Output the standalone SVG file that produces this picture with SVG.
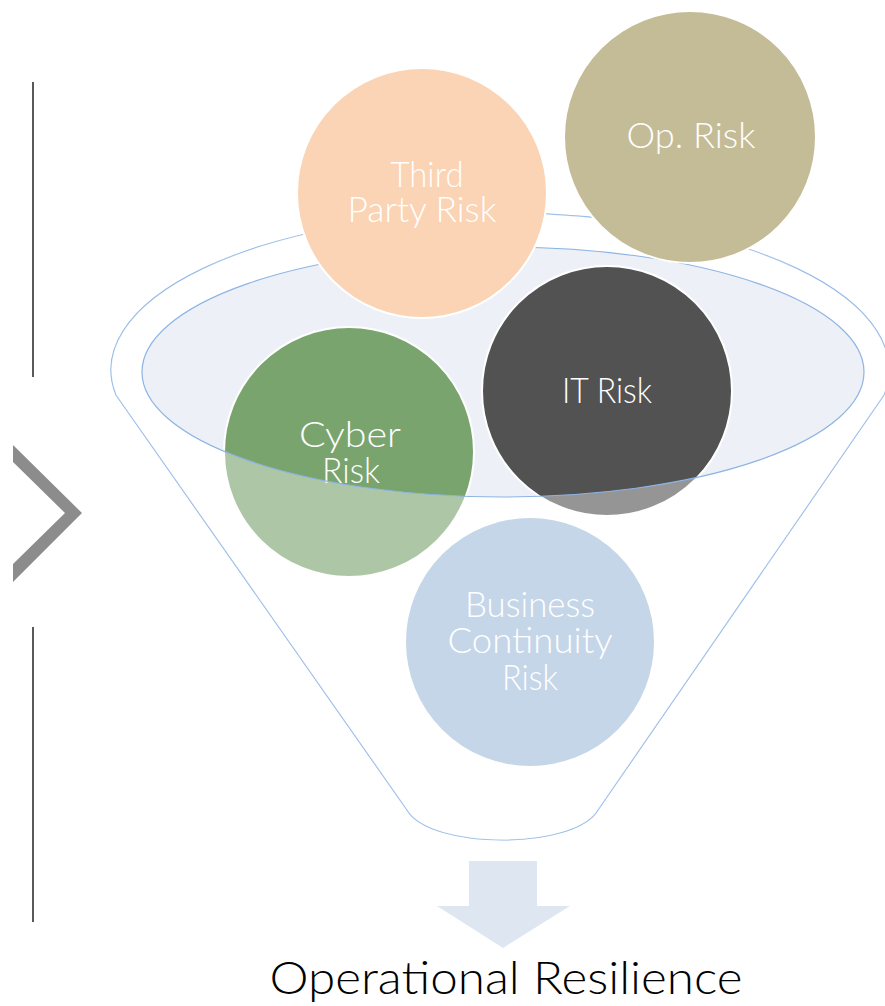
<svg xmlns="http://www.w3.org/2000/svg" width="885" height="1006" viewBox="0 0 885 1006">
<style>
.lbl{font-family:Lato,"Liberation Sans",Arial,sans-serif;font-weight:300;font-size:35px;fill:#FFFFFF;text-anchor:middle}
.ring{stroke:#FFFFFF;stroke-width:2}
.edge{fill:none;stroke:#8EB4E3;stroke-width:1.2}
.side{stroke:#595959;stroke-width:2}
</style>
<rect width="885" height="1006" fill="#FFFFFF"/>
<g id="side-bar">
<line class="side" x1="33" y1="82" x2="33" y2="377"/>
<line class="side" x1="33" y1="627" x2="33" y2="922"/>
<polygon points="13,445 82,513 13,582 13,564 65,513 13,462" fill="#8C8C8C"/>
</g>
<g id="funnel-base">
<path d="M116 395 A389 157 0 1 1 884 395 L598 810 C575 850 430 850 407 810 Z" fill="#FFFFFF" stroke="#8EB4E3" stroke-width="1.2"/>
<ellipse cx="503" cy="372" rx="361" ry="125" fill="#EDF1F7"/>
</g>
<g id="node-cyber">
<circle class="ring" cx="349" cy="452" r="125" fill="#7AA46E"/>
<text class="lbl" x="350" y="447" textLength="102" lengthAdjust="spacingAndGlyphs">Cyber</text>
<text class="lbl" x="351" y="483" textLength="58" lengthAdjust="spacingAndGlyphs">Risk</text>
</g>
<g id="node-it">
<circle class="ring" cx="607" cy="391" r="125" fill="#525252"/>
<text class="lbl" x="607" y="403" textLength="90" lengthAdjust="spacingAndGlyphs">IT Risk</text>
</g>
<g id="node-bc">
<circle class="ring" cx="530" cy="642" r="125" fill="#A2BCDB"/>
<text class="lbl" x="530" y="617" textLength="130" lengthAdjust="spacingAndGlyphs">Business</text>
<text class="lbl" x="530" y="653" textLength="165" lengthAdjust="spacingAndGlyphs">Continuity</text>
<text class="lbl" x="530" y="690" textLength="56" lengthAdjust="spacingAndGlyphs">Risk</text>
</g>
<g id="funnel-body">
<path d="M116 395 A389 157 0 1 1 884 395 L598 810 C575 850 430 850 407 810 Z M142 372 A361 125 0 1 0 864 372 A361 125 0 1 0 142 372 Z" fill="#FFFFFF" fill-opacity="0.39" fill-rule="evenodd"/>
<ellipse class="edge" cx="503" cy="372" rx="361" ry="125"/>
</g>
<g id="node-third-party">
<circle class="ring" cx="422" cy="193" r="125" fill="#FAD4B4"/>
<text class="lbl" x="427" y="187" textLength="73" lengthAdjust="spacingAndGlyphs">Third</text>
<text class="lbl" x="422" y="222" textLength="149" lengthAdjust="spacingAndGlyphs">Party Risk</text>
</g>
<g id="node-op">
<circle class="ring" cx="690" cy="137" r="126" fill="#C4BC97"/>
<text class="lbl" x="691" y="148" textLength="129" lengthAdjust="spacingAndGlyphs">Op. Risk</text>
</g>
<g id="connectors">
<polygon points="469,861 537,861 537,906 570,906 503,948 437,906 469,906" fill="#DEE7F1"/>
</g>
<g id="node-result">
<text x="506" y="994" font-family="Lato,'Liberation Sans',Arial,sans-serif" font-weight="300" font-size="45" fill="#000000" text-anchor="middle" textLength="473" lengthAdjust="spacingAndGlyphs">Operational Resilience</text>
</g>
</svg>
